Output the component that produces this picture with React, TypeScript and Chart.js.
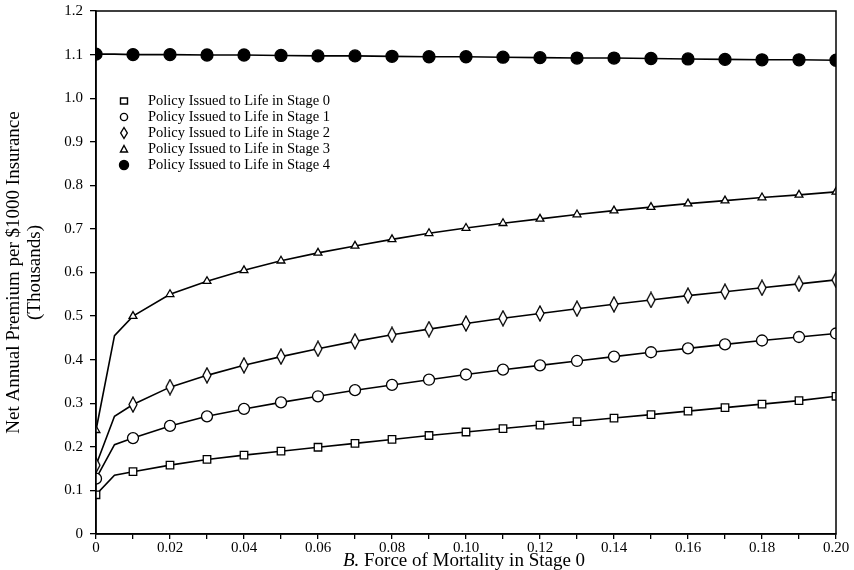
import { useEffect, useRef } from 'react';
import { Chart, registerables } from 'chart.js';

Chart.register(...registerables);

// Force of mortality in stage 0 (x); 0.005 is an unmarked kink point
const xValues = [0, 0.005, 0.01, 0.02, 0.03, 0.04, 0.05, 0.06, 0.07, 0.08, 0.09, 0.10, 0.11, 0.12, 0.13, 0.14, 0.15, 0.16, 0.17, 0.18, 0.19, 0.20];
const markedX = [true, false, true, true, true, true, true, true, true, true, true, true, true, true, true, true, true, true, true, true, true, true];

const stage0 = [0.090, 0.135, 0.143, 0.158, 0.171, 0.181, 0.190, 0.199, 0.208, 0.217, 0.226, 0.234, 0.242, 0.250, 0.258, 0.266, 0.274, 0.282, 0.290, 0.298, 0.306, 0.316];
const stage1 = [0.127, 0.205, 0.220, 0.248, 0.270, 0.287, 0.302, 0.316, 0.330, 0.342, 0.354, 0.366, 0.377, 0.387, 0.397, 0.407, 0.417, 0.426, 0.435, 0.444, 0.452, 0.460];
const stage2 = [0.158, 0.270, 0.297, 0.337, 0.364, 0.387, 0.407, 0.425, 0.442, 0.457, 0.470, 0.483, 0.495, 0.506, 0.517, 0.527, 0.537, 0.547, 0.556, 0.565, 0.574, 0.583];
const stage3 = [0.238, 0.455, 0.500, 0.550, 0.580, 0.605, 0.627, 0.645, 0.661, 0.676, 0.690, 0.702, 0.713, 0.723, 0.733, 0.742, 0.750, 0.758, 0.765, 0.772, 0.778, 0.785];
const stage4 = [1.101, 1.101, 1.100, 1.100, 1.099, 1.099, 1.098, 1.097, 1.097, 1.096, 1.095, 1.095, 1.094, 1.093, 1.092, 1.092, 1.091, 1.090, 1.089, 1.088, 1.088, 1.087];

const seriesLabels = [
  'Policy Issued to Life in Stage 0',
  'Policy Issued to Life in Stage 1',
  'Policy Issued to Life in Stage 2',
  'Policy Issued to Life in Stage 3',
  'Policy Issued to Life in Stage 4',
];
const seriesMarkers = ['square', 'circle', 'diamond', 'triangle', 'dot'];

const xTickLabels = ['0', '0.02', '0.04', '0.06', '0.08', '0.10', '0.12', '0.14', '0.16', '0.18', '0.20'];
const yTickLabels = ['0', '0.1', '0.2', '0.3', '0.4', '0.5', '0.6', '0.7', '0.8', '0.9', '1.0', '1.1', '1.2'];

const xTitleItalic = 'B.';
const xTitleRest = ' Force of Mortality in Stage 0';
const yTitle = ['Net Annual Premium per $1000 Insurance', '(Thousands)'];

const FONT = '"Liberation Serif", "DejaVu Serif", serif';

function makeDiamond(w: number, h: number, lw: number) {
  const c = document.createElement('canvas');
  c.width = w + 2;
  c.height = h + 2;
  const g = c.getContext('2d')!;
  g.fillStyle = '#fff';
  g.strokeStyle = '#000';
  g.lineWidth = lw;
  g.beginPath();
  g.moveTo(c.width / 2, 1);
  g.lineTo(c.width - 1, c.height / 2);
  g.lineTo(c.width / 2, c.height - 1);
  g.lineTo(1, c.height / 2);
  g.closePath();
  g.fill();
  g.stroke();
  return c;
}

function drawLegendMarker(ctx: CanvasRenderingContext2D, kind: string, x: number, y: number) {
  ctx.save();
  ctx.strokeStyle = '#000';
  ctx.fillStyle = '#fff';
  ctx.lineWidth = 1.4;
  ctx.beginPath();
  if (kind === 'square') {
    ctx.rect(x - 3.5, y - 3, 7, 6);
  } else if (kind === 'circle') {
    ctx.arc(x, y, 3.6, 0, Math.PI * 2);
  } else if (kind === 'diamond') {
    ctx.moveTo(x, y - 5.5);
    ctx.lineTo(x + 3.3, y);
    ctx.lineTo(x, y + 5.5);
    ctx.lineTo(x - 3.3, y);
    ctx.closePath();
  } else if (kind === 'triangle') {
    ctx.moveTo(x, y - 3.5);
    ctx.lineTo(x + 3.5, y + 3);
    ctx.lineTo(x - 3.5, y + 3);
    ctx.closePath();
  } else {
    ctx.fillStyle = '#000';
    ctx.arc(x, y, 4.5, 0, Math.PI * 2);
  }
  ctx.fill();
  ctx.stroke();
  ctx.restore();
}

const framePlugin = {
  id: 'frameAndText',
  afterDraw(chart: any) {
    const { ctx, chartArea } = chart;
    ctx.save();
    ctx.strokeStyle = '#000';
    ctx.lineWidth = 1.5;
    ctx.strokeRect(chartArea.left, chartArea.top, chartArea.right - chartArea.left, chartArea.bottom - chartArea.top);

    // legend inside the plot area
    ctx.fillStyle = '#000';
    ctx.font = `14.5px ${FONT}`;
    ctx.textBaseline = 'middle';
    ctx.textAlign = 'left';
    seriesLabels.forEach((label, i) => {
      const y = 101 + i * 16;
      drawLegendMarker(ctx, seriesMarkers[i], chartArea.left + 28, y);
      ctx.fillStyle = '#000';
      ctx.fillText(label, chartArea.left + 52, y);
    });

    // x axis title with italic "B."
    const size = 19;
    ctx.font = `italic ${size}px ${FONT}`;
    const w1 = ctx.measureText(xTitleItalic).width;
    ctx.font = `${size}px ${FONT}`;
    const w2 = ctx.measureText(xTitleRest).width;
    const cx = 464;
    const sx = cx - (w1 + w2) / 2;
    const ty = chart.height - 9;
    ctx.font = `italic ${size}px ${FONT}`;
    ctx.fillText(xTitleItalic, sx, ty);
    ctx.font = `${size}px ${FONT}`;
    ctx.fillText(xTitleRest, sx + w1, ty);
    ctx.restore();
  },
};

export default function App() {
  const ref = useRef<HTMLCanvasElement>(null);

  useEffect(() => {
    document.body.style.margin = '0';
    const diamond = makeDiamond(8, 15, 1.3);
    const radii = (r: number) => markedX.map((m) => (m ? r : 0));
    const pts = (vals: number[]) => xValues.map((x, i) => ({ x, y: vals[i] }));
    const base = {
      borderColor: '#000',
      borderWidth: 1.6,
      tension: 0,
      pointBorderColor: '#000',
      pointBorderWidth: 1.3,
      pointBackgroundColor: '#fff',
      fill: false,
    };
    const chart = new Chart(ref.current!, {
      type: 'line',
      data: {
        datasets: [
          { ...base, label: seriesLabels[0], data: pts(stage0), pointStyle: 'rect', pointRadius: radii(5.3) },
          { ...base, label: seriesLabels[1], data: pts(stage1), pointStyle: 'circle', pointRadius: radii(5.5) },
          { ...base, label: seriesLabels[2], data: pts(stage2), pointStyle: diamond as any, pointRadius: radii(8) },
          { ...base, label: seriesLabels[3], data: pts(stage3), pointStyle: 'triangle', pointRadius: radii(4.5) },
          { ...base, label: seriesLabels[4], data: pts(stage4), pointStyle: 'circle', pointRadius: radii(6), pointBackgroundColor: '#000' },
        ] as any,
      },
      options: {
        animation: false,
        responsive: false,
        maintainAspectRatio: false,
        devicePixelRatio: 1,
        layout: { padding: { top: 11, right: 18, left: 0, bottom: 0 } },
        plugins: { legend: { display: false }, tooltip: { enabled: false } },
        elements: { point: { hitRadius: 0 } },
        scales: {
          x: {
            type: 'linear',
            min: 0,
            max: 0.2,
            afterFit: (s: any) => { s.height = 36; },
            border: { display: true, color: '#000', width: 1.5 },
            grid: { drawOnChartArea: false, drawTicks: true, tickLength: 5, color: '#000', lineWidth: 1.3 },
            ticks: {
              stepSize: 0.01,
              autoSkip: false,
              maxRotation: 0,
              padding: 0,
              color: '#000',
              font: { family: FONT, size: 15 },
              callback: (v: any) => {
                const idx = Math.round(Number(v) * 100);
                return idx % 2 === 0 ? xTickLabels[idx / 2] : '';
              },
            },
            title: { display: false },
          },
          y: {
            type: 'linear',
            min: 0,
            max: 1.2,
            afterFit: (s: any) => { s.width = 96; s.paddingTop = 0; s.paddingBottom = 0; },
            border: { display: true, color: '#000', width: 1.5 },
            grid: { drawOnChartArea: false, drawTicks: true, tickLength: 6, color: '#000', lineWidth: 1.3 },
            ticks: {
              stepSize: 0.1,
              padding: 7,
              color: '#000',
              font: { family: FONT, size: 15 },
              callback: (v: any) => yTickLabels[Math.round(Number(v) * 10)],
            },
            title: {
              display: true,
              text: yTitle,
              color: '#000',
              font: { family: FONT, size: 19, lineHeight: 1.1 },
              padding: { top: 3.5, bottom: 0 },
            },
          },
        },
      },
      plugins: [framePlugin],
    });
    return () => chart.destroy();
  }, []);

  return (
    <div style={{ position: 'absolute', left: 0, top: 0, width: 854, height: 570 }}>
      <canvas ref={ref} width={854} height={570} />
    </div>
  );
}
